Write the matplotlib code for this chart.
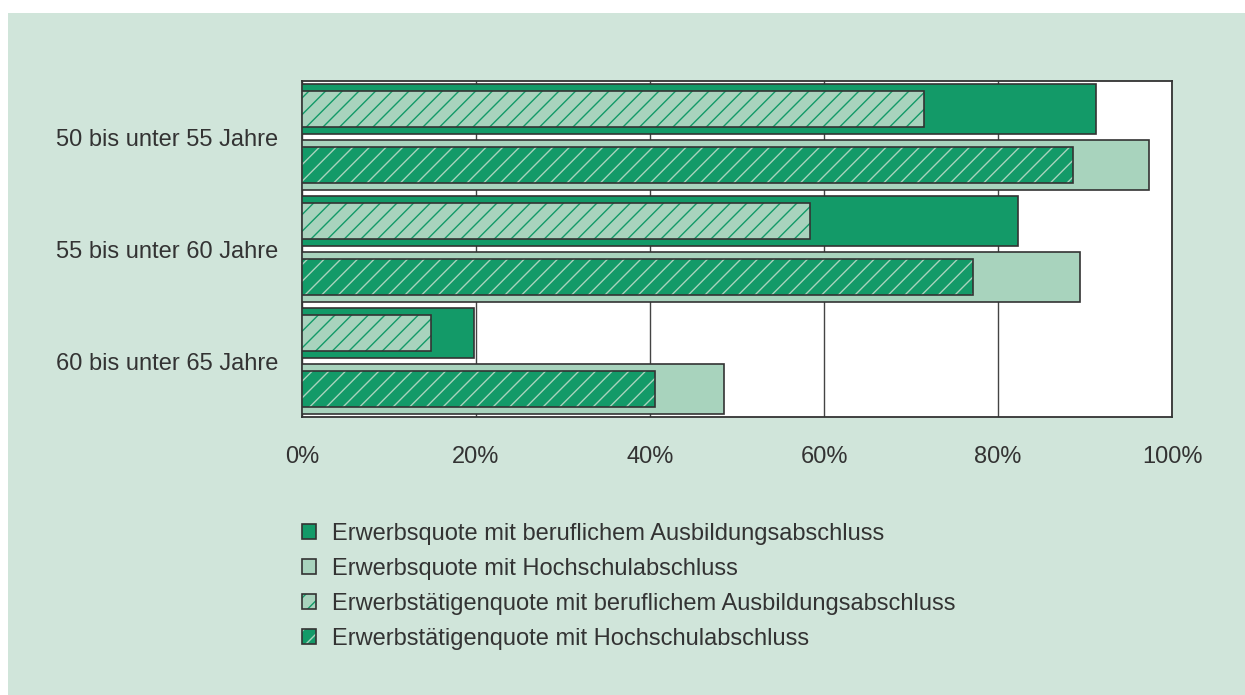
import numpy as np
import matplotlib
matplotlib.use("Agg")
import matplotlib.pyplot as plt
from matplotlib.patches import Patch
from matplotlib.legend_handler import HandlerTuple

# ── Data ────────────────────────────────────────────────────────────────────
groups = ["50 bis unter 55 Jahre", "55 bis unter 60 Jahre", "60 bis unter 65 Jahre"]
quote_beruf = [91.3, 82.3, 19.8]        # Erwerbsquote, beruflicher Abschluss
quote_hoch = [97.4, 89.4, 48.5]         # Erwerbsquote, Hochschulabschluss
taetig_beruf = [71.5, 58.4, 14.8]       # Erwerbstätigenquote, beruflich
taetig_hoch = [88.6, 77.1, 40.6]        # Erwerbstätigenquote, Hochschule
xticks = [0, 20, 40, 60, 80, 100]
legend_labels = [
    "Erwerbsquote mit beruflichem Ausbildungsabschluss",
    "Erwerbsquote mit Hochschulabschluss",
    "Erwerbstätigenquote mit beruflichem Ausbildungsabschluss",
    "Erwerbstätigenquote mit Hochschulabschluss",
]

# ── Style ───────────────────────────────────────────────────────────────────
DARK = "#139a68"
LIGHT = "#a8d3bd"
PANEL = "#d0e5da"
EDGE = "#333333"
TEXT = "#333333"

plt.rcParams.update({
    "font.family": ["Liberation Sans", "DejaVu Sans"],
    "hatch.linewidth": 1.0,
    "text.color": TEXT,
})

fig = plt.figure(figsize=(12.45, 6.95), dpi=100)
fig.patch.set_facecolor("white")
fig.patches.append(plt.Rectangle((8 / 1245, 0), 1 - 8 / 1245, 1 - 13 / 695,
                                 transform=fig.transFigure, facecolor=PANEL,
                                 edgecolor="none", zorder=-10))

ax = fig.add_axes([302 / 1245, 1 - 417 / 695, 870 / 1245, 336 / 695])
ax.set_facecolor("white")

y = np.arange(len(groups))
outer_h = 0.45
inner_h = 0.32
off = 0.25


def solid(ypos, vals, color):
    ax.barh(ypos, vals, height=outer_h, color=color, edgecolor=EDGE,
            linewidth=1.2, zorder=3)


def hatched(ypos, vals, face, hatch_col):
    # hatch colour follows edgecolor, so draw the outline in a second pass
    ax.barh(ypos, vals, height=inner_h, color=face, edgecolor=hatch_col,
            hatch="//", linewidth=0, zorder=4)
    ax.barh(ypos, vals, height=inner_h, color="none", edgecolor=EDGE,
            linewidth=1.2, zorder=5)


solid(y - off, quote_beruf, DARK)
hatched(y - off, taetig_beruf, LIGHT, DARK)
solid(y + off, quote_hoch, LIGHT)
hatched(y + off, taetig_hoch, DARK, LIGHT)

ax.set_xlim(0, 100)
ax.set_ylim(len(groups) - 0.5, -0.5)
ax.set_xticks(xticks)
ax.set_xticklabels([f"{t}%" for t in xticks], fontsize=17, color=TEXT)
ax.set_yticks(y)
ax.set_yticklabels(groups, fontsize=17, color=TEXT)
ax.tick_params(axis="both", length=0)
ax.tick_params(axis="x", pad=21)
ax.tick_params(axis="y", pad=17)
ax.grid(axis="x", color="#444444", linewidth=1.0, zorder=0)
ax.set_axisbelow(True)
for s in ax.spines.values():
    s.set_color(EDGE)
    s.set_linewidth(1.3)

# ── Legend ──────────────────────────────────────────────────────────────────
h1 = Patch(facecolor=DARK, edgecolor=EDGE, linewidth=1.2)
h2 = Patch(facecolor=LIGHT, edgecolor=EDGE, linewidth=1.2)
h3 = (Patch(facecolor=LIGHT, edgecolor=DARK, hatch="//", linewidth=0),
      Patch(facecolor="none", edgecolor=EDGE, linewidth=1.2))
h4 = (Patch(facecolor=DARK, edgecolor=LIGHT, hatch="//", linewidth=0),
      Patch(facecolor="none", edgecolor=EDGE, linewidth=1.2))
fig.legend([h1, h2, h3, h4], legend_labels,
           handler_map={tuple: HandlerTuple(ndivide=1)},
           loc="upper left", bbox_to_anchor=(302 / 1245, 1 - 523 / 695),
           frameon=False, fontsize=17, handlelength=0.6, handleheight=0.6,
           handletextpad=0.68, labelspacing=0.55, borderpad=0, borderaxespad=0)

fig.savefig("out.png", dpi=100, facecolor=fig.get_facecolor())
